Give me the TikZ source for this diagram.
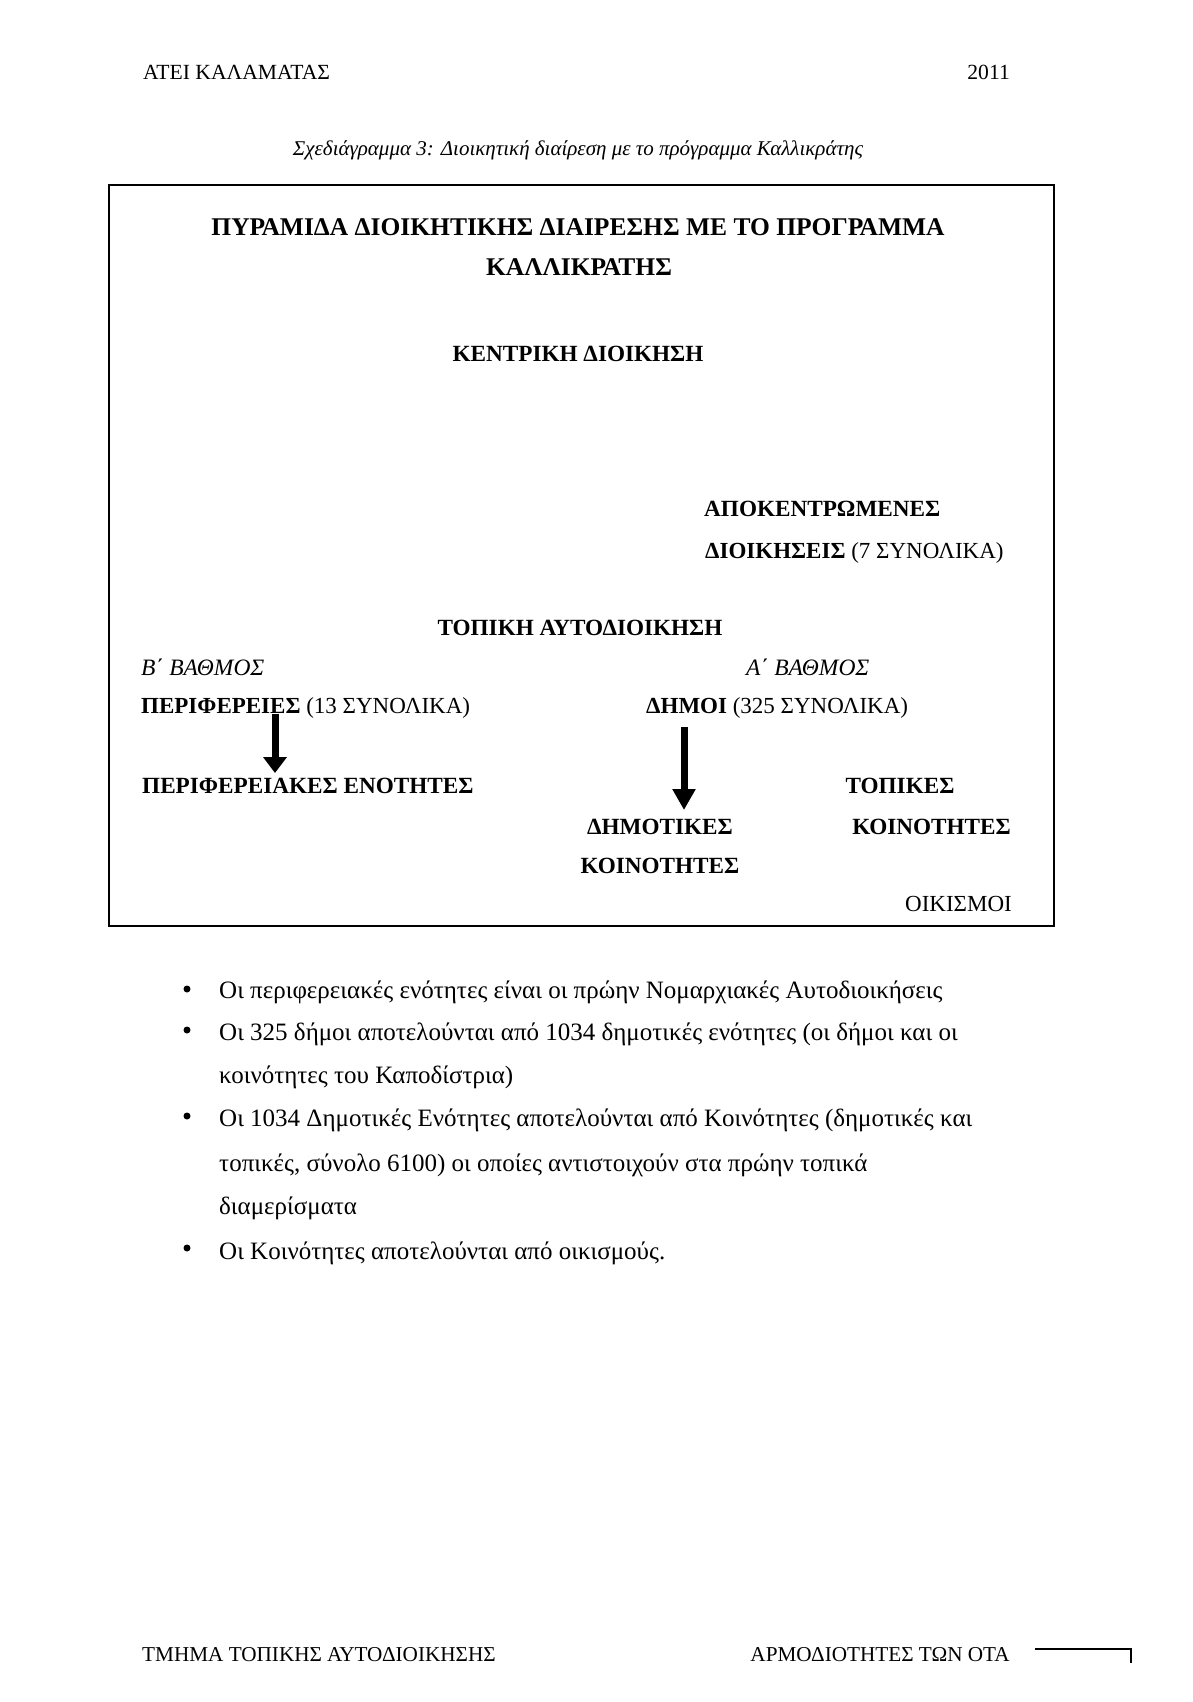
\documentclass[tikz,border=0pt]{standalone}
\usepackage{fontspec}
\setmainfont{Liberation Serif}
\usetikzlibrary{arrows.meta}
\tikzset{
  txt/.style={inner sep=0pt, anchor=base west, text=black},
  hdr/.style={txt, font=\fontsize{21.6}{26}\selectfont},
  ftr/.style={txt, font=\fontsize{21.2}{26}\selectfont},
  capt/.style={txt, font=\fontsize{21}{25}\selectfont\itshape},
  ttl/.style={txt, font=\fontsize{25.5}{30}\selectfont\bfseries},
  bld/.style={txt, font=\fontsize{23.2}{28}\selectfont\bfseries},
  reg/.style={txt, font=\fontsize{23}{28}\selectfont},
  itl/.style={txt, font=\fontsize{23.5}{28}\selectfont\itshape},
  body/.style={txt, font=\fontsize{25}{30}\selectfont},
  frame/.style={draw=black, line width=2pt},
  fatarrow/.style={draw=black, line width=7pt, -{Triangle[width=23pt,length=16pt]}},
  bul/.style={circle, fill=black, inner sep=0pt, minimum size=7pt},
}
\begin{document}
\begin{tikzpicture}[x=1pt,y=-1pt]
\useasboundingbox[fill=white] (0,0) rectangle (1192,1702);
% header
\node[hdr] (h1) at (143,79) {ΑΤΕΙ ΚΑΛΑΜΑΤΑΣ};
\node[hdr, anchor=base east] (h2) at (1010,79) {2011};
\node[capt, anchor=base] (cap) at (578,155) {Σχεδιάγραμμα 3: Διοικητική διαίρεση με το πρόγραμμα Καλλικράτης};
% frame
\draw[frame] (109,185) rectangle (1054,926);
% box texts
\node[ttl, anchor=base] (t1) at (578,235) {ΠΥΡΑΜΙΔΑ ΔΙΟΙΚΗΤΙΚΗΣ ΔΙΑΙΡΕΣΗΣ ΜΕ ΤΟ ΠΡΟΓΡΑΜΜΑ};
\node[ttl, anchor=base] (t2) at (579,275) {ΚΑΛΛΙΚΡΑΤΗΣ};
\node[bld, anchor=base] (kd) at (578,361) {ΚΕΝΤΡΙΚΗ ΔΙΟΙΚΗΣΗ};
\node[bld] (apo) at (704,516) {ΑΠΟΚΕΝΤΡΩΜΕΝΕΣ};
\node[reg] (dioik) at (705,558) {\bfseries ΔΙΟΙΚΗΣΕΙΣ \mdseries(7 ΣΥΝΟΛΙΚΑ)};
\node[bld, anchor=base] (ta) at (580,635) {ΤΟΠΙΚΗ ΑΥΤΟΔΙΟΙΚΗΣΗ};
\node[itl] (bv) at (141,675) {Β΄ ΒΑΘΜΟΣ};
\node[itl] (av) at (746,675) {Α΄ ΒΑΘΜΟΣ};
\node[reg] (per) at (141,713) {\bfseries ΠΕΡΙΦΕΡΕΙΕΣ \mdseries(13 ΣΥΝΟΛΙΚΑ)};
\node[reg] (dim) at (646,713) {\bfseries ΔΗΜΟΙ \mdseries(325 ΣΥΝΟΛΙΚΑ)};
\node[bld] (pen) at (142,793) {ΠΕΡΙΦΕΡΕΙΑΚΕΣ ΕΝΟΤΗΤΕΣ};
\node[bld, anchor=base] (top) at (900,793) {ΤΟΠΙΚΕΣ};
\node[bld, anchor=base] (dimk) at (660,834) {ΔΗΜΟΤΙΚΕΣ};
\node[bld, anchor=base east] (koin2) at (1011,834) {ΚΟΙΝΟΤΗΤΕΣ};
\node[bld, anchor=base] (koin1) at (660,873) {ΚΟΙΝΟΤΗΤΕΣ};
\node[reg, anchor=base east] (oik) at (1012,911) {ΟΙΚΙΣΜΟΙ};
% arrows
\coordinate (a1s) at (275,714);
\coordinate (a1e) at (275,773);
\coordinate (a2s) at (684,727);
\coordinate (a2e) at (684,810);
\draw[fatarrow] (a1s) -- (a1e);
\draw[fatarrow, -{Triangle[width=22pt,length=21pt]}] (a2s) -- (a2e);
% bullets
\node[bul] (b1) at (187,989) {};
\node[bul] (b2) at (187,1030) {};
\node[bul] (b3) at (187,1116) {};
\node[bul] (b4) at (187,1248) {};
\node[body] (l1) at (219,998) {Οι περιφερειακές ενότητες είναι οι πρώην Νομαρχιακές Αυτοδιοικήσεις};
\node[body] (l2) at (219,1040) {Οι 325 δήμοι αποτελούνται από 1034 δημοτικές ενότητες (οι δήμοι και οι};
\node[body] (l3) at (219,1083) {κοινότητες του Καποδίστρια)};
\node[body] (l4) at (219,1126) {Οι 1034 Δημοτικές Ενότητες αποτελούνται από Κοινότητες (δημοτικές και};
\node[body] (l5) at (219,1171) {τοπικές, σύνολο 6100) οι οποίες αντιστοιχούν στα πρώην τοπικά};
\node[body] (l6) at (219,1214) {διαμερίσματα};
\node[body] (l7) at (219,1259) {Οι Κοινότητες αποτελούνται από οικισμούς.};
% footer
\node[ftr] (f1) at (142,1661) {ΤΜΗΜΑ ΤΟΠΙΚΗΣ ΑΥΤΟΔΙΟΙΚΗΣΗΣ};
\node[ftr, anchor=base east] (f2) at (1010,1661) {ΑΡΜΟΔΙΟΤΗΤΕΣ ΤΩΝ ΟΤΑ};
\coordinate (fl1) at (1035,1649);
\coordinate (fl2) at (1131,1649);
\coordinate (fl3) at (1131,1663);
\draw[black, line width=1.5pt] (fl1) -- (fl2) -- (fl3);
\end{tikzpicture}
\end{document}
